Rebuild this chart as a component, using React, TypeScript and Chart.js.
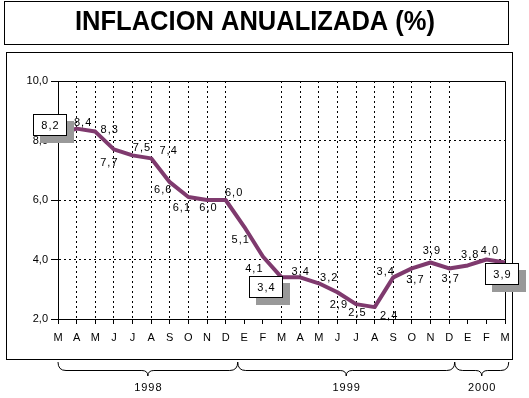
import React, { useEffect, useRef } from 'react';
import { Chart, registerables } from 'chart.js';

Chart.register(...registerables);

// ---------------- data ----------------
const title = 'INFLACION ANUALIZADA (%)';
const monthLabels = ['M', 'A', 'M', 'J', 'J', 'A', 'S', 'O', 'N', 'D', 'E', 'F', 'M', 'A', 'M', 'J', 'J', 'A', 'S', 'O', 'N', 'D', 'E', 'F', 'M'];
const inflation = [8.2, 8.4, 8.3, 7.7, 7.5, 7.4, 6.6, 6.1, 6.0, 6.0, 5.1, 4.1, 3.4, 3.4, 3.2, 2.9, 2.5, 2.4, 3.4, 3.7, 3.9, 3.7, 3.8, 4.0, 3.9];
const yearLabels = ['1998', '1999', '2000'];
const yMin = 2;
const yMax = 10;
const yStep = 2;
const calloutIndices = [0, 12, 24];

// ---------------- styles ----------------
const FONT = '"Liberation Sans", Arial, sans-serif';
const LINE_COLOR = '#7f3a6e';
const SHADOW = '#999999';
const hiddenXGrid = [0, 10, 11, 22, 23, 24];
// label centre offsets from the point (px)
const labelOffsets: Record<number, [number, number]> = {
  1: [6, -7], 2: [14, -3], 3: [-5, 13], 4: [9, -8], 5: [17, -8], 6: [-7, 7], 7: [-7, 9.5],
  8: [1, 6.5], 9: [8, -8], 10: [-4, 12], 11: [-9, 11.5], 13: [0, -6], 14: [10, -6], 15: [1, 12],
  16: [1, 8], 17: [14, 8], 18: [-8, -6], 19: [3, 10.5], 20: [1, -12], 21: [1, 10], 22: [2, -11], 23: [3, -9.5],
};
// callout box top-left offsets from the point (px)
const calloutOffsets: Record<number, [number, number]> = { 0: [-25, -21], 12: [-32.5, -1.5], 24: [-20, 0.5] };
// brace edges in category units
const braceEdges = [0, 9.65, 21.3, 24.2];

const fmt = (v: number) => v.toFixed(1).replace('.', ',');

Chart.defaults.font.family = FONT;
Chart.defaults.font.size = 11;
Chart.defaults.color = '#000';

const decoPlugin = {
  id: 'deco',
  afterDraw(chart: any) {
    const ctx: CanvasRenderingContext2D = chart.ctx;
    const a = chart.chartArea;
    const xs = chart.scales.x;
    const ys = chart.scales.y;
    ctx.save();
    ctx.setLineDash([]);
    ctx.strokeStyle = '#000';
    ctx.fillStyle = '#000';
    ctx.lineWidth = 1;

    // title box
    ctx.strokeRect(4.5, 1.5, 504, 43);
    ctx.font = `bold 27px ${FONT}`;
    ctx.textAlign = 'center';
    ctx.textBaseline = 'alphabetic';
    const tw = ctx.measureText(title).width;
    ctx.save();
    ctx.translate(255, 30);
    ctx.scale(360 / tw, 1);
    ctx.fillText(title, 0, 0);
    ctx.restore();

    // chart frame
    ctx.strokeRect(6.5, 52.5, 506, 307);

    // plot border top / right
    const L = Math.round(a.left) + 0.5;
    const R = Math.round(a.right) + 0.5;
    const T = Math.round(a.top) + 0.5;
    const B = Math.round(a.bottom) + 0.5;
    ctx.beginPath();
    ctx.moveTo(L, T);
    ctx.lineTo(R, T);
    ctx.lineTo(R, B);
    ctx.stroke();

    // data labels
    ctx.font = `11px ${FONT}`;
    (ctx as any).letterSpacing = '1px';
    ctx.textAlign = 'center';
    ctx.textBaseline = 'alphabetic';
    inflation.forEach((v, i) => {
      const off = labelOffsets[i];
      if (!off) return;
      const x = xs.getPixelForValue(i);
      const y = ys.getPixelForValue(v);
      ctx.fillText(fmt(v), x + off[0] + 0.5, y + off[1] + 4);
    });

    // callouts
    calloutIndices.forEach((i) => {
      const off = calloutOffsets[i];
      const x = xs.getPixelForValue(i);
      const y = ys.getPixelForValue(inflation[i]);
      const bx = Math.round(x + off[0]);
      const by = Math.round(y + off[1]);
      const w = 34;
      const h = 22;
      ctx.fillStyle = SHADOW;
      ctx.fillRect(bx + 7, by + 7, w, h);
      ctx.fillStyle = '#fff';
      ctx.fillRect(bx, by, w, h);
      ctx.strokeStyle = '#000';
      ctx.strokeRect(bx + 0.5, by + 0.5, w - 1, h - 1);
      ctx.fillStyle = '#000';
      ctx.fillText(fmt(inflation[i]), bx + w / 2 + 0.5, by + h / 2 + 4);
    });

    // braces + years
    (ctx as any).letterSpacing = '0px';
    ctx.strokeStyle = '#000';
    ctx.lineWidth = 1;
    const yTop = 362;
    const yMid = 370.5;
    const yTip = 376;
    for (let k = 0; k < yearLabels.length; k++) {
      const x1 = xs.getPixelForValue(braceEdges[k]);
      const x2 = xs.getPixelForValue(braceEdges[k + 1]);
      const m = (x1 + x2) / 2;
      ctx.beginPath();
      ctx.moveTo(x1, yTop);
      ctx.quadraticCurveTo(x1, yMid, x1 + 8, yMid);
      ctx.lineTo(m - 6, yMid);
      ctx.quadraticCurveTo(m, yMid, m, yTip);
      ctx.quadraticCurveTo(m, yMid, m + 6, yMid);
      ctx.lineTo(x2 - 8, yMid);
      ctx.quadraticCurveTo(x2, yMid, x2, yTop);
      ctx.stroke();
      ctx.fillStyle = '#000';
      ctx.font = `11px ${FONT}`;
      (ctx as any).letterSpacing = '1px';
      ctx.fillText(yearLabels[k], m + 0.5, 391);
      (ctx as any).letterSpacing = '0px';
    }
    ctx.restore();
  },
};

export default function App() {
  const ref = useRef<HTMLCanvasElement | null>(null);
  useEffect(() => {
    if (!ref.current) return;
    const chart = new Chart(ref.current, {
      type: 'line',
      data: {
        labels: monthLabels,
        datasets: [
          {
            data: inflation,
            borderColor: LINE_COLOR,
            borderWidth: 4,
            pointRadius: 0,
            tension: 0,
            fill: false,
            borderJoinStyle: 'round',
          },
        ],
      },
      options: {
        animation: false,
        responsive: false,
        events: [],
        layout: { padding: { left: 0, top: 81, right: 24, bottom: 0 } },
        plugins: {
          legend: { display: false },
          tooltip: { enabled: false },
          title: { display: false },
        },
        scales: {
          x: {
            offset: false,
            grid: {
              color: (c: any) => (hiddenXGrid.includes(c.index) ? 'rgba(0,0,0,0)' : '#000'),
              tickColor: '#000',
              tickLength: 5,
              lineWidth: 1,
            },
            border: { display: true, color: '#000', width: 1, dash: [2, 3] },
            ticks: { color: '#000', padding: 7, maxRotation: 0, autoSkip: false, font: { size: 11 } },
            afterFit: (s: any) => {
              s.height = 79;
            },
          },
          y: {
            min: yMin,
            max: yMax,
            grid: {
              color: (c: any) =>
                c.tick && (c.tick.value === yMin || c.tick.value === yMax) ? 'rgba(0,0,0,0)' : '#000',
              tickColor: '#000',
              tickLength: 7,
              lineWidth: 1,
            },
            border: { display: true, color: '#000', width: 1, dash: [2, 3] },
            ticks: {
              stepSize: yStep,
              padding: 3,
              color: '#000',
              font: { size: 11 },
              callback: (v: any) => fmt(Number(v)),
            },
            afterFit: (s: any) => {
              s.width = 58;
            },
          },
        },
      },
      plugins: [decoPlugin],
    });
    return () => chart.destroy();
  }, []);
  return (
    <div style={{ position: 'fixed', left: 0, top: 0, width: 529, height: 398, background: '#fff' }}>
      <canvas ref={ref} width={529} height={398} style={{ display: 'block' }} />
    </div>
  );
}
